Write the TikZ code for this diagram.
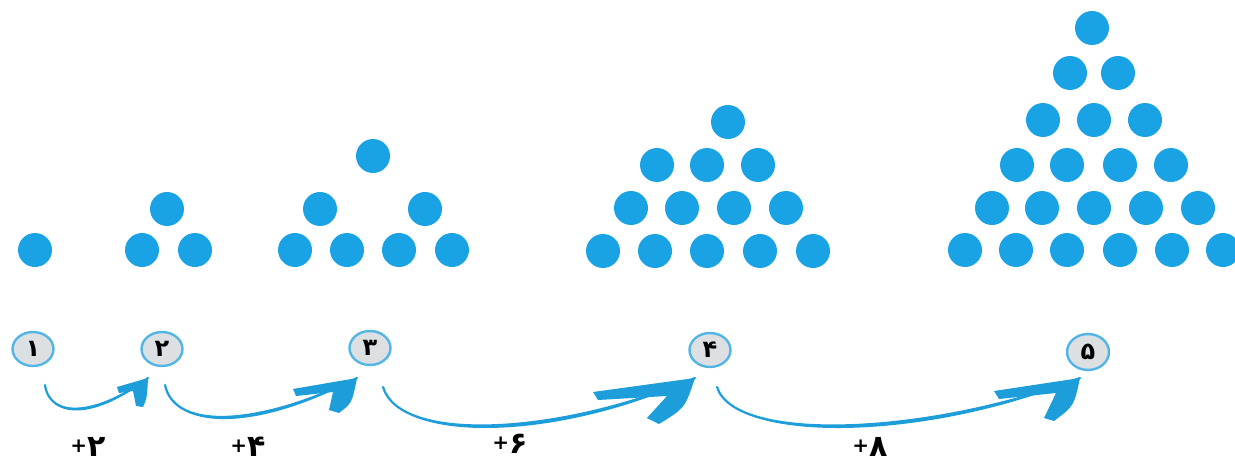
\documentclass[tikz,border=0pt]{standalone}
\usepackage{fontspec}
\usetikzlibrary{calc,shapes.geometric}
\newfontfamily\fadigits[Script=Arabic]{DejaVu Sans}
\newfontfamily\plusfont{DejaVu Sans}
\definecolor{dotblue}{HTML}{19A3E4}
\definecolor{arrblue}{HTML}{1D9EDB}
\definecolor{ringblue}{HTML}{52B5E6}
\definecolor{ringfill}{HTML}{DCE0E3}
\newcommand\steptext[1]{\raisebox{4pt}{\plusfont\bfseries\fontsize{20}{20}\selectfont +}\mbox{\fadigits\bfseries\fontsize{30}{30}\selectfont #1}}
\begin{document}
\begin{tikzpicture}[x=1pt,y=-1pt,
  dot/.style={fill=dotblue},
  numbox/.style={ellipse, draw=ringblue, fill=ringfill, line width=2.4pt,
    minimum width=41pt, minimum height=34pt, inner sep=0pt,
    font=\fadigits\bfseries\fontsize{24}{24}\selectfont},
  steplabel/.style={inner sep=0pt},
  arrline/.style={draw=arrblue, line width=2.2pt, line cap=round},
  arrfill/.style={fill=arrblue}]
\useasboundingbox (0,0) rectangle (1235,463);
\clip (0,0) rectangle (1235,463);

% dot patterns
\foreach \p in {(35,250),
  (167,209),(142,250),(195,250),
  (373,156),(320,209),(425,209),(295,250),(347,250),(399,250),(452,250),
  (728,122),(657,165),(707,165),(758,165),(631,208),(682,208),(734,208),(786,208),
  (603,251),(655,251),(707,251),(760,251),(813,251),
  (1092,28),(1070,73),(1118,73),(1043,120),(1094,120),(1145,120),
  (1017,165),(1067,165),(1120,165),(1171,165),
  (992,208),(1042,208),(1094,208),(1146,208),(1198,208),
  (965,250),(1016,250),(1067,250),(1120,250),(1172,250),(1223,250)}
  \fill[dot] \p circle (17);

% numbered ellipses
\node[numbox] (c1) at (33,349) {۱};
\node[numbox] (c2) at (162,349) {۲};
\node[numbox] (c3) at (370,348) {۳};
\node[numbox] (c4) at (710,350) {۴};
\node[numbox, minimum width=42pt, minimum height=36pt] (c5) at (1088,352) {۵};

% connector end points
\coordinate (s1) at ($(c1)+(12,36)$);
\coordinate (t1) at ($(c2)+(-14,29)$);
\coordinate (s2) at ($(c2)+(3,36)$);
\coordinate (t2) at ($(c3)+(-13,30)$);
\coordinate (s3) at ($(c3)+(13,39)$);
\coordinate (t3) at ($(c4)+(-15,28)$);
\coordinate (s4) at ($(c4)+(7,37)$);
\coordinate (t4) at ($(c5)+(-8,26)$);

% arrow 1
\draw[arrline] (s1) .. controls ($(s1)+(5,35)$) and ($(t1)+(-50,37)$) .. (t1);
\fill[arrfill] (s1) .. controls ($(s1)+(5,35)$) and ($(t1)+(-50,37)$) .. (t1)
  .. controls ($(t1)+(-50,41)$) and ($(s1)+(5,36)$) .. (s1);
\fill[arrfill] (t1) -- ($(t1)+(-31,9)$) -- ($(t1)+(-29,15)$) -- ($(t1)+(-15,13)$)
  -- ($(t1)+(-12,28)$) -- ($(t1)+(-5,29)$) .. controls ($(t1)+(-1,20)$) .. cycle;

% arrow 2
\draw[arrline] (s2) .. controls ($(s2)+(10,47)$) and ($(t2)+(-95,47)$) .. (t2);
\fill[arrfill] (s2) .. controls ($(s2)+(10,47)$) and ($(t2)+(-95,47)$) .. (t2)
  .. controls ($(t2)+(-95,52)$) and ($(s2)+(10,48)$) .. (s2);
\fill[arrfill] (t2) -- ($(t2)+(-64,11)$) -- ($(t2)+(-61,18)$) -- ($(t2)+(-24,14)$)
  -- ($(t2)+(-28,32)$) -- ($(t2)+(-18,35)$) .. controls ($(t2)+(-5,25)$) .. cycle;

% arrow 3
\draw[arrline] (s3) .. controls ($(s3)+(17,57)$) and ($(t3)+(-135,57)$) .. (t3);
\fill[arrfill] (s3) .. controls ($(s3)+(17,57)$) and ($(t3)+(-135,57)$) .. (t3)
  .. controls ($(t3)+(-135,63)$) and ($(s3)+(17,58)$) .. (s3);
\fill[arrfill] (t3) -- ($(t3)+(-102,14)$) -- ($(t3)+(-97,22)$) -- ($(t3)+(-28,18)$)
  -- ($(t3)+(-48,40)$) -- ($(t3)+(-36,46)$) .. controls ($(t3)+(-10,30)$) .. cycle;

% arrow 4
\draw[arrline] (s4) .. controls ($(s4)+(18,57)$) and ($(t4)+(-150,57)$) .. (t4);
\fill[arrfill] (s4) .. controls ($(s4)+(18,57)$) and ($(t4)+(-150,57)$) .. (t4)
  .. controls ($(t4)+(-150,63)$) and ($(s4)+(18,58)$) .. (s4);
\fill[arrfill] (t4) -- ($(t4)+(-86,13)$) -- ($(t4)+(-81,21)$) -- ($(t4)+(-24,15)$)
  -- ($(t4)+(-36,40)$) -- ($(t4)+(-26,43)$) .. controls ($(t4)+(-6,28)$) .. cycle;

% step labels
\node[steplabel] (l1) at (88,447) {\steptext{۲}};
\node[steplabel] (l2) at (248,447) {\steptext{۴}};
\node[steplabel] (l3) at (510,444) {\steptext{۶}};
\node[steplabel] (l4) at (870,447) {\steptext{۸}};
\end{tikzpicture}
\end{document}
